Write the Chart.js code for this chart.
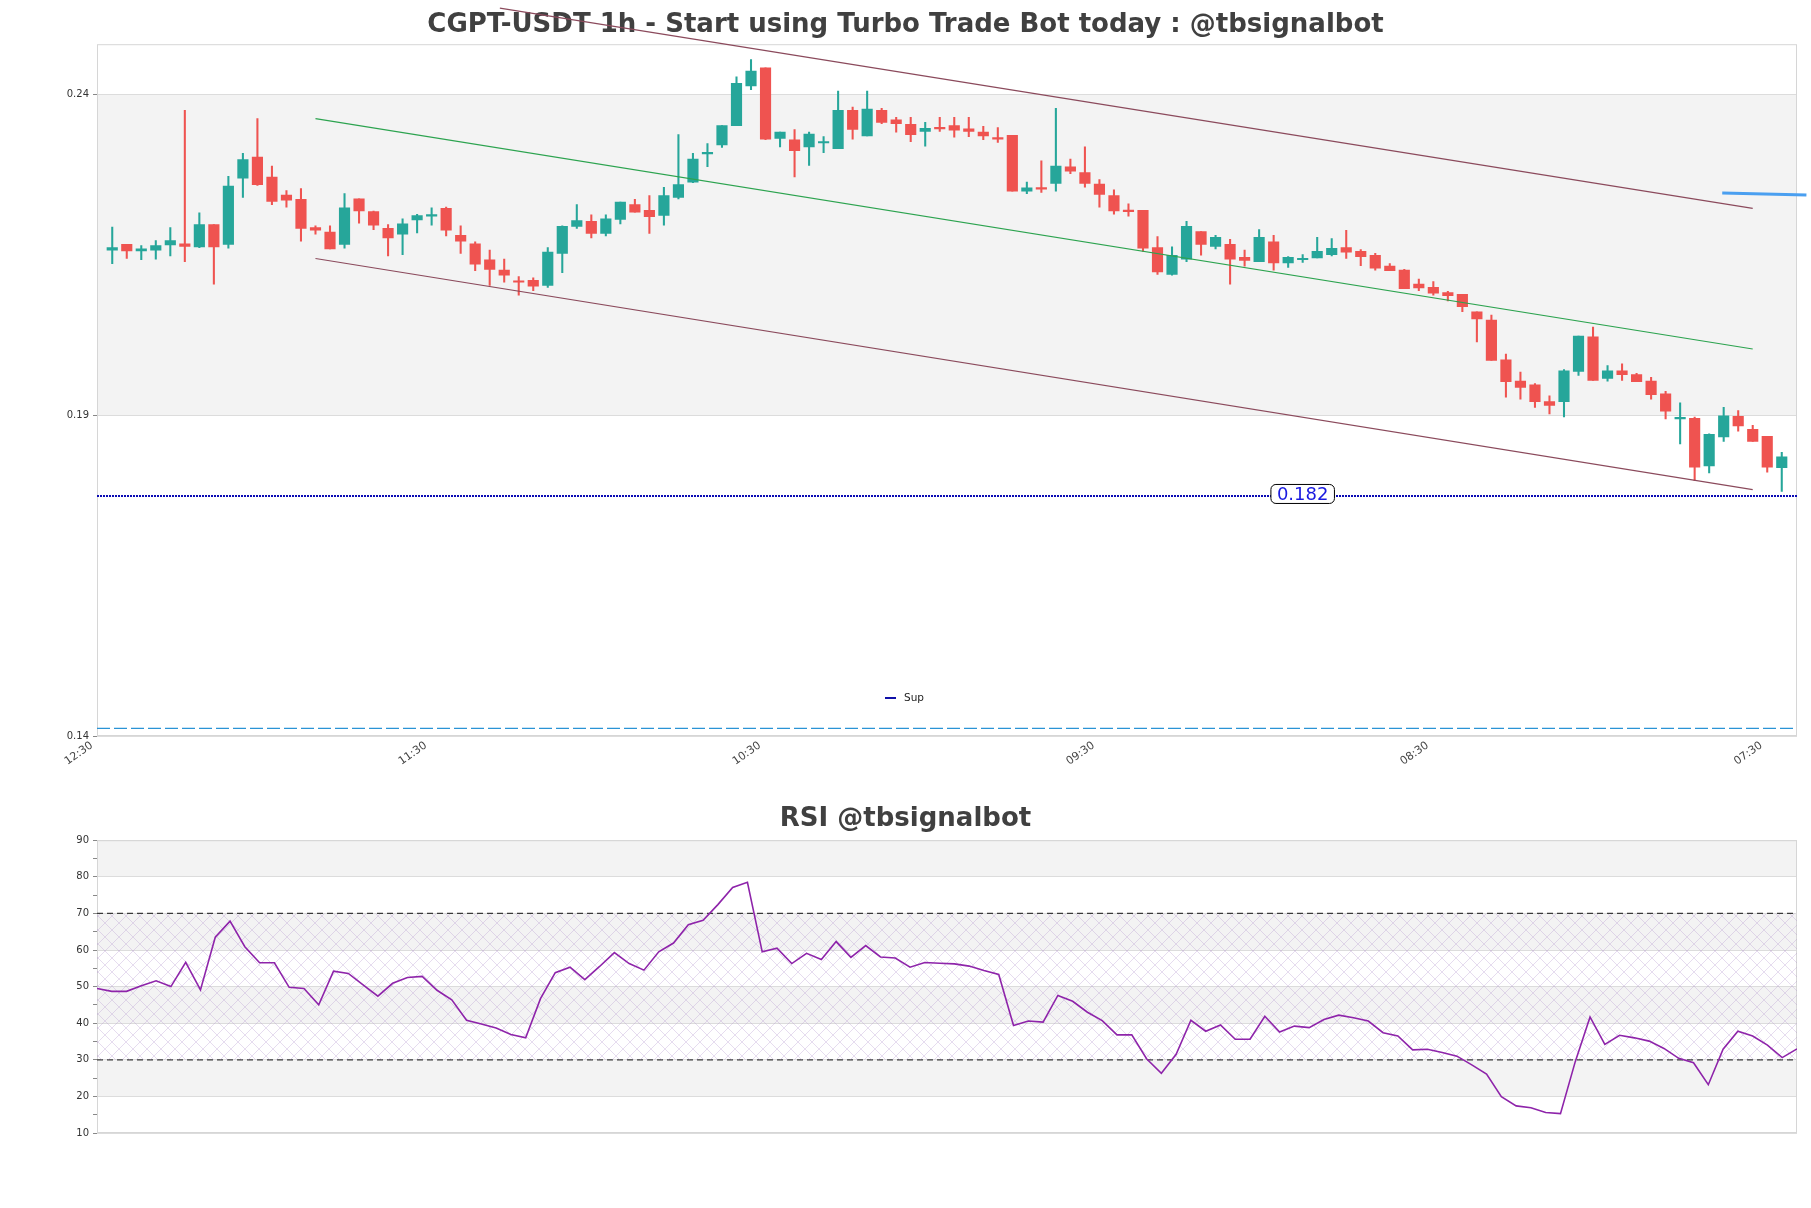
<!DOCTYPE html>
<html>
<head>
<meta charset="utf-8">
<title>CGPT-USDT 1h</title>
<script src="https://cdn.jsdelivr.net/npm/chart.js@4.4.0/dist/chart.umd.min.js"></script>
<style>
  html, body { margin: 0; padding: 0; background: #fff; }
  #wrap { position: relative; width: 1811px; height: 1208px; }
  #priceBox { position: absolute; left: 0; top: 0; width: 1811px; height: 790px; }
  #rsiBox { position: absolute; left: 0; top: 790px; width: 1811px; height: 418px; }
</style>
</head>
<body>
<div id="wrap">
  <div id="priceBox"><canvas id="priceChart"></canvas></div>
  <div id="rsiBox"><canvas id="rsiChart"></canvas></div>
</div>
<script>
// hourly candles, oldest first
const opens = [
  0.2157, 0.2166, 0.2156, 0.2157, 0.2165, 0.2167, 0.2162, 0.2197, 0.2166, 0.2269,
  0.2302, 0.2271, 0.2243, 0.2236, 0.2192, 0.2185, 0.2166, 0.2237, 0.2217, 0.2191,
  0.2182, 0.2204, 0.2210, 0.2222, 0.2180, 0.2167, 0.2142, 0.2126, 0.2108, 0.2110,
  0.2102, 0.2152, 0.2194, 0.2202, 0.2183, 0.2205, 0.2228, 0.2219, 0.2211, 0.2239,
  0.2263, 0.2307, 0.2321, 0.2351, 0.2413, 0.2441, 0.2331, 0.2329, 0.2318, 0.2324,
  0.2315, 0.2375, 0.2335, 0.2375, 0.2360, 0.2353, 0.2342, 0.2348, 0.2351, 0.2346,
  0.2341, 0.2332, 0.2336, 0.2249, 0.2254, 0.2261, 0.2287, 0.2278, 0.2260, 0.2242,
  0.2219, 0.2219, 0.2161, 0.2119, 0.2143, 0.2186, 0.2163, 0.2166, 0.2146, 0.2139,
  0.2170, 0.2137, 0.2142, 0.2145, 0.2150, 0.2161, 0.2155, 0.2149, 0.2132, 0.2126,
  0.2104, 0.2099, 0.2091, 0.2088, 0.2061, 0.2048, 0.1986, 0.1953, 0.1947, 0.1921,
  0.1921, 0.1968, 0.2022, 0.1957, 0.1969, 0.1963, 0.1953, 0.1933, 0.1894, 0.1895,
  0.1821, 0.1866, 0.1898, 0.1878, 0.1867, 0.1818
];
const highs = [
  0.2193, 0.2166, 0.2164, 0.2172, 0.2192, 0.2375, 0.2215, 0.2197, 0.2272, 0.2308,
  0.2362, 0.2288, 0.2250, 0.2253, 0.2195, 0.2195, 0.2245, 0.2237, 0.2218, 0.2197,
  0.2206, 0.2213, 0.2223, 0.2224, 0.2195, 0.2170, 0.2157, 0.2143, 0.2116, 0.2114,
  0.2161, 0.2195, 0.2228, 0.2212, 0.2212, 0.2232, 0.2236, 0.2242, 0.2255, 0.2337,
  0.2308, 0.2323, 0.2351, 0.2427, 0.2454, 0.2441, 0.2341, 0.2345, 0.2341, 0.2334,
  0.2405, 0.2380, 0.2405, 0.2378, 0.2364, 0.2364, 0.2356, 0.2364, 0.2364, 0.2364,
  0.2350, 0.2348, 0.2336, 0.2263, 0.2296, 0.2378, 0.2299, 0.2318, 0.2267, 0.2251,
  0.2229, 0.2219, 0.2178, 0.2162, 0.2202, 0.2186, 0.2180, 0.2174, 0.2157, 0.2189,
  0.2180, 0.2147, 0.2150, 0.2177, 0.2175, 0.2188, 0.2158, 0.2152, 0.2136, 0.2127,
  0.2112, 0.2108, 0.2093, 0.2088, 0.2061, 0.2056, 0.1995, 0.1967, 0.1949, 0.1930,
  0.1971, 0.2023, 0.2037, 0.1977, 0.1980, 0.1965, 0.1959, 0.1937, 0.1919, 0.1897,
  0.1871, 0.1912, 0.1907, 0.1884, 0.1867, 0.1842
];
const lows = [
  0.2136, 0.2144, 0.2142, 0.2143, 0.2148, 0.2139, 0.2161, 0.2104, 0.2160, 0.2239,
  0.2258, 0.2228, 0.2224, 0.2171, 0.2182, 0.2159, 0.2160, 0.2199, 0.2189, 0.2148,
  0.2150, 0.2184, 0.2196, 0.2179, 0.2152, 0.2125, 0.2102, 0.2107, 0.2087, 0.2094,
  0.2099, 0.2122, 0.2191, 0.2176, 0.2179, 0.2198, 0.2216, 0.2183, 0.2196, 0.2237,
  0.2262, 0.2287, 0.2317, 0.2351, 0.2407, 0.2329, 0.2318, 0.2271, 0.2289, 0.2309,
  0.2315, 0.2330, 0.2335, 0.2354, 0.2341, 0.2326, 0.2319, 0.2342, 0.2333, 0.2334,
  0.2329, 0.2325, 0.2249, 0.2245, 0.2247, 0.2249, 0.2276, 0.2255, 0.2224, 0.2213,
  0.2210, 0.2155, 0.2119, 0.2118, 0.2139, 0.2149, 0.2159, 0.2104, 0.2132, 0.2139,
  0.2126, 0.2130, 0.2138, 0.2145, 0.2148, 0.2144, 0.2133, 0.2126, 0.2125, 0.2097,
  0.2094, 0.2087, 0.2078, 0.2061, 0.2014, 0.1985, 0.1928, 0.1925, 0.1912, 0.1902,
  0.1897, 0.1962, 0.1954, 0.1953, 0.1954, 0.1952, 0.1925, 0.1894, 0.1855, 0.1798,
  0.1810, 0.1859, 0.1875, 0.1859, 0.1811, 0.1781
];
const closes = [
  0.2161, 0.2156, 0.2159, 0.2164, 0.2172, 0.2163, 0.2197, 0.2162, 0.2257, 0.2298,
  0.2259, 0.2233, 0.2235, 0.2191, 0.2188, 0.2159, 0.2223, 0.2218, 0.2196, 0.2176,
  0.2198, 0.2211, 0.2211, 0.2188, 0.2171, 0.2135, 0.2127, 0.2118, 0.2107, 0.2101,
  0.2154, 0.2194, 0.2203, 0.2183, 0.2206, 0.2232, 0.2216, 0.2209, 0.2242, 0.2259,
  0.2299, 0.2308, 0.2351, 0.2417, 0.2436, 0.2330, 0.2341, 0.2312, 0.2338, 0.2326,
  0.2375, 0.2345, 0.2377, 0.2356, 0.2354, 0.2337, 0.2347, 0.2346, 0.2344, 0.2342,
  0.2335, 0.2330, 0.2249, 0.2254, 0.2252, 0.2288, 0.2280, 0.2261, 0.2244, 0.2218,
  0.2217, 0.2160, 0.2123, 0.2149, 0.2194, 0.2166, 0.2177, 0.2143, 0.2141, 0.2177,
  0.2137, 0.2146, 0.2144, 0.2155, 0.2160, 0.2154, 0.2147, 0.2129, 0.2125, 0.2097,
  0.2098, 0.2090, 0.2086, 0.2069, 0.2050, 0.1985, 0.1952, 0.1943, 0.1921, 0.1915,
  0.1969, 0.2023, 0.1954, 0.1969, 0.1963, 0.1952, 0.1932, 0.1906, 0.1895, 0.1819,
  0.1870, 0.1899, 0.1883, 0.1859, 0.1819, 0.1835
];

const rsiValues = [
  49.5, 48.7, 48.7, 50.2, 51.6, 50.0, 56.6, 49.1, 63.5, 67.9,
  60.9, 56.5, 56.5, 49.8, 49.5, 45.0, 54.2, 53.6, 50.5, 47.4,
  50.9, 52.5, 52.8, 49.0, 46.4, 40.8, 39.8, 38.7, 36.9, 36.0,
  46.7, 53.8, 55.3, 51.9, 55.5, 59.3, 56.3, 54.5, 59.5, 61.9,
  66.9, 68.1, 72.4, 77.1, 78.5, 59.5, 60.5, 56.3, 59.1, 57.4,
  62.3, 58.0, 61.2, 58.1, 57.8, 55.3, 56.6, 56.4, 56.2, 55.6,
  54.4, 53.3, 39.4, 40.6, 40.3, 47.6, 46.0, 43.0, 40.7, 36.8,
  36.8, 30.3, 26.3, 31.5, 40.8, 37.8, 39.5, 35.6, 35.6, 41.9,
  37.6, 39.2, 38.8, 41.0, 42.2, 41.5, 40.6, 37.4, 36.5, 32.7,
  32.9, 32.0, 31.0, 28.6, 26.1, 19.9, 17.4, 16.9, 15.6, 15.3,
  29.5, 41.7, 34.2, 36.7, 36.0, 35.1, 33.1, 30.4, 29.2, 23.2,
  32.9, 37.8, 36.5, 34.0, 30.6, 33.0
];

const timeLabels = ['12:30', '11:30', '10:30', '09:30', '08:30', '07:30'];
const labelStart = -1.4;        // candle position of the first time label
const labelEvery = 23;          // candles between time labels
const priceTicks = [0.14, 0.19, 0.24];
const rsiLevels = [70, 30];

// trend channel: [start candle, end candle] and prices at both ends
const channelX = [14, 113];
const upperX = [26.7, 113];
const channelUpper = [0.2534, 0.2222];
const channelMid = [0.2362, 0.2003];
const channelLower = [0.2144, 0.1784];

const supLevel = 0.1774;
const supText = '0.182';
const supTextAt = 82;
const lowLevel = 0.1412;
const projX = [110.9, 116.7];
const projY = [0.2246, 0.2243];

const UP = '#26a69a';
const DOWN = '#ef5350';

Chart.defaults.font.family = "'DejaVu Sans', sans-serif";
Chart.defaults.color = '#333';

const n = closes.length;
const xMin = -1.05, xMax = n + 0.05;
const candleColor = (c) => closes[c.dataIndex] >= opens[c.dataIndex] ? UP : DOWN;

// alternating grey bands between major ticks, plus the frame
const bandPlugin = {
  id: 'bands',
  beforeDraw(chart, args, opts) {
    const { ctx, chartArea: a, scales: { y } } = chart;
    ctx.save();
    ctx.fillStyle = opts.color;
    let k = 0;
    for (let v = y.min; v < y.max - 1e-9; v += opts.step, k++) {
      if (k % 2 === 1) {
        const top = y.getPixelForValue(Math.min(v + opts.step, y.max));
        const bot = y.getPixelForValue(v);
        ctx.fillRect(a.left, top, a.right - a.left, bot - top);
      }
    }
    ctx.restore();
  },
  beforeDatasetsDraw(chart) {
    const { ctx, chartArea: a } = chart;
    ctx.save();
    ctx.strokeStyle = '#d6d6d6';
    ctx.lineWidth = 1;
    ctx.strokeRect(a.left + 0.5, a.top + 0.5, a.right - a.left - 1, a.bottom - a.top - 1);
    ctx.restore();
  }
};

const supPlugin = {
  id: 'supNote',
  afterDatasetsDraw(chart) {
    const { ctx, chartArea: a, scales: { x, y } } = chart;
    ctx.save();
    // value box on the support line
    const cx = x.getPixelForValue(supTextAt);
    const cy = y.getPixelForValue(supLevel) - 2;
    ctx.font = '18px "DejaVu Sans"';
    const w = ctx.measureText(supText).width + 12;
    const h = 19;
    ctx.beginPath();
    ctx.roundRect(cx - w / 2, cy - h / 2, w, h, 5);
    ctx.fillStyle = '#fff';
    ctx.fill();
    ctx.strokeStyle = '#000';
    ctx.lineWidth = 1;
    ctx.stroke();
    ctx.fillStyle = '#1a1ae0';
    ctx.textAlign = 'center';
    ctx.textBaseline = 'middle';
    ctx.fillText(supText, cx, cy + 1);
    // legend
    const lx = a.left + 788, ly = a.bottom - 38;
    ctx.strokeStyle = '#1010a8';
    ctx.lineWidth = 2;
    ctx.beginPath();
    ctx.moveTo(lx, ly);
    ctx.lineTo(lx + 11, ly);
    ctx.stroke();
    ctx.font = '10.5px "DejaVu Sans"';
    ctx.fillStyle = '#222';
    ctx.textAlign = 'left';
    ctx.fillText('Sup', lx + 19, ly);
    ctx.restore();
  }
};

const line = (xs, ys, color, extra) => Object.assign({
  type: 'line',
  data: xs.map((v, i) => ({ x: v, y: ys[i] })),
  borderColor: color,
  borderWidth: 1.2,
  pointRadius: 0,
  fill: false,
  clip: false
}, extra || {});

const ctx = document.getElementById('priceChart').getContext('2d');
const priceChart = new Chart(ctx, {
  type: 'bar',
  data: {
    datasets: [
      line(upperX, channelUpper, '#8b4a5c'),
      line(channelX, channelMid, '#2ca34f'),
      line(channelX, channelLower, '#8b4a5c'),
      line([xMin, xMax], [supLevel, supLevel], '#0a0ab4', { borderWidth: 2, borderDash: [2, 1], clip: true }),
      line([xMin, xMax], [lowLevel, lowLevel], '#2a93d5', { borderDash: [13, 4], clip: true }),
      line(projX, projY, '#4a9ff0', { borderWidth: 3 }),
      {
        label: 'body',
        data: opens.map((o, i) => ({ x: i, y: [o, closes[i]] })),
        backgroundColor: candleColor,
        barThickness: 10.5,
        minBarLength: 1.5,
        grouped: false
      },
      {
        label: 'wick',
        data: lows.map((l, i) => ({ x: i, y: [l, highs[i]] })),
        backgroundColor: candleColor,
        barThickness: 1.4,
        grouped: false
      }
    ]
  },
  options: {
    responsive: true,
    maintainAspectRatio: false,
    animation: false,
    layout: { padding: { left: 14, right: 14, top: 0, bottom: 0 } },
    plugins: {
      legend: { display: false },
      tooltip: { enabled: false },
      title: {
        display: true,
        text: 'CGPT-USDT 1h - Start using Turbo Trade Bot today : @tbsignalbot',
        color: '#404040',
        font: { size: 26, weight: 'bold' },
        padding: { top: 9.7, bottom: 3.3 }
      },
      bands: { color: '#f3f3f3', step: 0.05 }
    },
    scales: {
      x: {
        type: 'linear',
        min: xMin,
        max: xMax,
        offset: false,
        grid: { display: false },
        border: { display: false },
        afterBuildTicks: (s) => {
          s.ticks = timeLabels.map((_, k) => ({ value: labelStart + k * labelEvery }));
        },
        afterFit: (s) => { s.height = 54; },
        ticks: {
          autoSkip: false,
          minRotation: 35,
          maxRotation: 35,
          padding: -5,
          color: '#444',
          font: { size: 11 },
          callback: (v, i) => timeLabels[i]
        }
      },
      y: {
        min: 0.14,
        max: 0.24779,
        border: { display: false },
        grid: { color: '#dcdcdc', tickLength: 4, tickColor: '#888' },
        afterBuildTicks: (s) => { s.ticks = priceTicks.map((v) => ({ value: v })); },
        afterFit: (s) => { s.width = 83; },
        ticks: {
          padding: 4,
          font: { size: 10 },
          callback: (v) => Number(v).toFixed(2)
        }
      }
    }
  },
  plugins: [bandPlugin, supPlugin]
});

const ctx2 = document.getElementById('rsiChart').getContext('2d');

const hatchTile = document.createElement('canvas');
hatchTile.width = 14;
hatchTile.height = 14;
const ht = hatchTile.getContext('2d');
ht.strokeStyle = 'rgba(175, 145, 205, 0.45)';
ht.lineWidth = 0.7;
ht.beginPath();
ht.moveTo(0, 0); ht.lineTo(14, 14);
ht.moveTo(14, 0); ht.lineTo(0, 14);
ht.stroke();
const hatch = ctx2.createPattern(hatchTile, 'repeat');

const rsiEnd = rsiValues.length - 1;
const myChart2 = new Chart(ctx2, {
  type: 'line',
  data: {
    datasets: [
      {
        label: 'RSI',
        data: rsiValues.map((v, i) => ({ x: i, y: v })),
        borderColor: '#8e24aa',
        borderWidth: 1.6,
        pointRadius: 0,
        fill: false
      },
      {
        label: 'upper',
        data: [{ x: 0, y: rsiLevels[0] }, { x: rsiEnd, y: rsiLevels[0] }],
        borderColor: '#3a3a3a',
        borderWidth: 1.2,
        borderDash: [6, 4],
        pointRadius: 0,
        fill: '+1',
        backgroundColor: hatch
      },
      {
        label: 'lower',
        data: [{ x: 0, y: rsiLevels[1] }, { x: rsiEnd, y: rsiLevels[1] }],
        borderColor: '#3a3a3a',
        borderWidth: 1.2,
        borderDash: [6, 4],
        pointRadius: 0,
        fill: false
      }
    ]
  },
  options: {
    responsive: true,
    maintainAspectRatio: false,
    animation: false,
    layout: { padding: { left: 14, right: 14, top: 0, bottom: 75 } },
    plugins: {
      legend: { display: false },
      tooltip: { enabled: false },
      title: {
        display: true,
        text: 'RSI @tbsignalbot',
        color: '#404040',
        font: { size: 26, weight: 'bold' },
        padding: { top: 14, bottom: 5 }
      },
      bands: { color: '#f3f3f3', step: 10 }
    },
    scales: {
      x: {
        type: 'linear',
        min: 0,
        max: rsiEnd,
        display: false
      },
      y: {
        min: 10,
        max: 90,
        border: { display: false },
        grid: {
          color: (c) => (c.tick && c.tick.value % 10 === 0 ? '#dcdcdc' : 'rgba(0,0,0,0)'),
          tickLength: 4,
          tickColor: '#888'
        },
        afterFit: (s) => { s.width = 83; },
        ticks: {
          stepSize: 5,
          padding: 4,
          font: { size: 10 },
          callback: (v) => (v % 10 === 0 ? v : '')
        }
      }
    }
  },
  plugins: [bandPlugin]
});
</script>
</body>
</html>
